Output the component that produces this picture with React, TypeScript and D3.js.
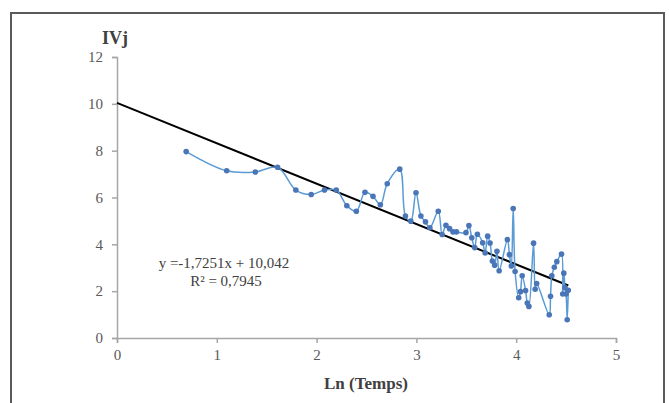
import React, { useEffect, useRef } from "react";
import * as d3 from "d3";

const lnTemps = [
  0.693, 1.099, 1.386, 1.609, 1.792, 1.946, 2.079, 2.197, 2.303, 2.398,
  2.485, 2.565, 2.639, 2.708, 2.833, 2.890, 2.944, 2.996, 3.045, 3.091,
  3.135, 3.219, 3.258, 3.296, 3.332, 3.367, 3.401, 3.497, 3.526, 3.555,
  3.584, 3.611, 3.664, 3.689, 3.714, 3.738, 3.761, 3.784, 3.807, 3.829,
  3.912, 3.932, 3.951, 3.970, 3.989, 4.025, 4.043, 4.060, 4.094, 4.111,
  4.127, 4.174, 4.190, 4.205, 4.331, 4.344, 4.357, 4.382, 4.407, 4.454,
  4.466, 4.477, 4.489, 4.500, 4.511, 4.522,
];
const ivj = [
  7.96, 7.14, 7.09, 7.29, 6.32, 6.13, 6.32, 6.32, 5.65, 5.41,
  6.22, 6.05, 5.69, 6.59, 7.21, 5.21, 4.99, 6.20, 5.21, 4.96,
  4.71, 5.41, 4.42, 4.81, 4.67, 4.53, 4.53, 4.50, 4.80, 4.28,
  3.86, 4.43, 4.07, 3.63, 4.35, 4.06, 3.29, 3.11, 3.70, 2.87,
  4.20, 3.56, 3.08, 5.53, 2.84, 1.72, 1.98, 2.66, 2.03, 1.49,
  1.35, 4.05, 2.08, 2.33, 0.99, 1.78, 2.66, 3.02, 3.26, 3.58,
  1.88, 2.77, 2.15, 1.88, 0.78, 2.04,
];
const xTicks = [0, 1, 2, 3, 4, 5];
const yTicks = [0, 2, 4, 6, 8, 10, 12];
const trendSlope = -1.7251;
const trendIntercept = 10.042;
const equationLines = ["y =-1,7251x + 10,042", "R² = 0,7945"];

export default function App() {
  const ref = useRef<SVGSVGElement>(null);

  useEffect(() => {
    const svg = d3.select(ref.current);
    svg.selectAll("*").remove();
    const font = "'Liberation Serif', 'Times New Roman', serif";
    const x = d3.scaleLinear().domain([0, 5]).range([117, 616]);
    const y = d3.scaleLinear().domain([0, 12]).range([338, 57]);

    // frame
    svg.append("rect").attr("x", 11).attr("y", 13).attr("width", 653).attr("height", 400)
      .attr("fill", "#fff").attr("stroke", "#5a5a5a").attr("stroke-width", 2);

    const axisColor = "#a6a6a6";
    const ya = svg.append("g").attr("transform", `translate(${x(0)},0)`)
      .call(d3.axisLeft(y).tickValues(yTicks).tickFormat(d3.format("d")).tickSize(5).tickPadding(9));
    const xa = svg.append("g").attr("transform", `translate(0,${y(0)})`)
      .call(d3.axisBottom(x).tickValues(xTicks).tickFormat(d3.format("d")).tickSize(5).tickPadding(6));
    [ya, xa].forEach((g) => {
      g.attr("font-family", font);
      g.select(".domain").attr("stroke", axisColor).attr("stroke-width", 1.5);
      g.selectAll(".tick line").attr("stroke", axisColor).attr("stroke-width", 1.5);
      g.selectAll(".tick text").attr("fill", "#595959").attr("font-size", 15).style("font-family", font);
    });

    // trendline
    const xMax = d3.max(lnTemps) as number;
    svg.append("line")
      .attr("x1", x(0)).attr("y1", y(trendIntercept))
      .attr("x2", x(xMax)).attr("y2", y(trendIntercept + trendSlope * xMax))
      .attr("stroke", "#000").attr("stroke-width", 2);

    const pts = lnTemps.map((v, i) => [v, ivj[i]] as [number, number]);
    const line = d3.line<[number, number]>()
      .x((d) => x(d[0])).y((d) => y(d[1]))
      .curve(d3.curveCatmullRom.alpha(0.5));
    svg.append("path").attr("d", line(pts)).attr("fill", "none")
      .attr("stroke", "#5b9bd5").attr("stroke-width", 1.5);

    svg.append("g").selectAll("circle").data(pts).join("circle")
      .attr("cx", (d) => x(d[0])).attr("cy", (d) => y(d[1])).attr("r", 2.8)
      .attr("fill", "#4a76b8");

    // equation
    svg.append("text").attr("x", 224).attr("y", 268).attr("text-anchor", "middle")
      .style("font-family", font).attr("font-size", 15).attr("fill", "#404040")
      .text(equationLines[0]);
    svg.append("text").attr("x", 226).attr("y", 286).attr("text-anchor", "middle")
      .style("font-family", font).attr("font-size", 15).attr("fill", "#404040")
      .text(equationLines[1]);

    // axis titles
    svg.append("text").attr("x", 102).attr("y", 44)
      .style("font-family", font).attr("font-size", 18).attr("font-weight", "bold").attr("fill", "#404040")
      .text("IVj");
    svg.append("text").attr("x", 366).attr("y", 389).attr("text-anchor", "middle")
      .style("font-family", font).attr("font-size", 17).attr("font-weight", "bold").attr("fill", "#404040")
      .text("Ln (Temps)");
  }, []);

  return (
    <svg ref={ref} width={669} height={403}
      style={{ position: "absolute", left: 0, top: 0, background: "#fff" }} />
  );
}
